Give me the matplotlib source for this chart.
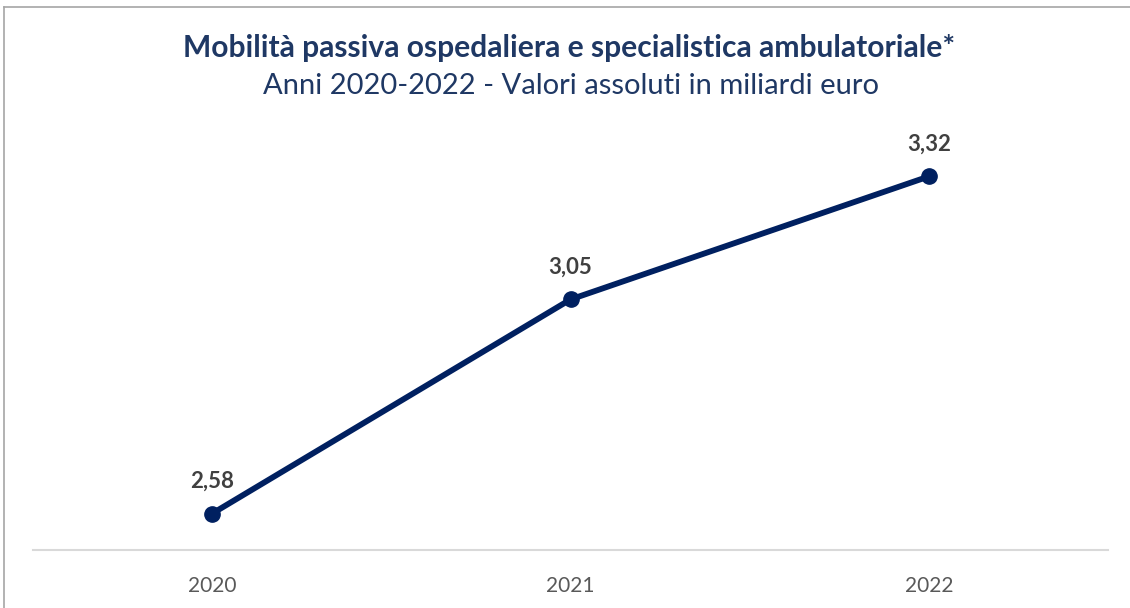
import matplotlib
matplotlib.use("Agg")
import matplotlib.pyplot as plt
from matplotlib.lines import Line2D

years = ["2020", "2021", "2022"]
valori = [2.58, 3.05, 3.32]
etichette = ["2,58", "3,05", "3,32"]

plt.rcParams['font.family'] = ['Lato', 'DejaVu Sans']

fig = plt.figure(figsize=(11.3, 6.08), dpi=100)
ax = fig.add_axes([33 / 1130, 1 - 550 / 608, 1075 / 1130, 410 / 608])

x = list(range(len(valori)))
ax.plot(x, valori, color='#002060', linewidth=4.2, marker='o', markersize=11,
        solid_capstyle='round', zorder=3)
for xi, v, lab in zip(x, valori, etichette):
    ax.annotate(lab, (xi, v), xytext=(0, 16), textcoords='offset points',
                ha='center', va='bottom', fontsize=16, fontweight='bold', color='#404040')

ax.set_xlim(-0.5, 2.5)
ax.set_ylim(2.5, 3.4)
ax.set_xticks(x)
ax.set_xticklabels(years, fontsize=15, color='#595959')
ax.tick_params(axis='x', length=0, pad=19)
ax.set_yticks([])
for s in ['top', 'right', 'left']:
    ax.spines[s].set_visible(False)
ax.spines['bottom'].set_color('#D9D9D9')
ax.spines['bottom'].set_linewidth(1.5)

fig.text(0.504, 1 - 57 / 608, "Mobilità passiva ospedaliera e specialistica ambulatoriale*",
         ha='center', va='baseline', fontsize=21.6, fontweight='bold', color='#1F3864')
fig.text(0.505, 1 - 94 / 608, "Anni 2020-2022 - Valori assoluti in miliardi euro",
         ha='center', va='baseline', fontsize=21, color='#1F3864')

# bordo grigio (solo lato sinistro e superiore visibili)
fig.add_artist(Line2D([3.5 / 1130, 3.5 / 1130], [0, 1 - 7 / 608], transform=fig.transFigure,
                      color='#A6A6A6', linewidth=1.2))
fig.add_artist(Line2D([3.5 / 1130, 1], [1 - 7 / 608, 1 - 7 / 608], transform=fig.transFigure,
                      color='#A6A6A6', linewidth=1.2))

plt.savefig('out.png', dpi=100)
plt.close()
